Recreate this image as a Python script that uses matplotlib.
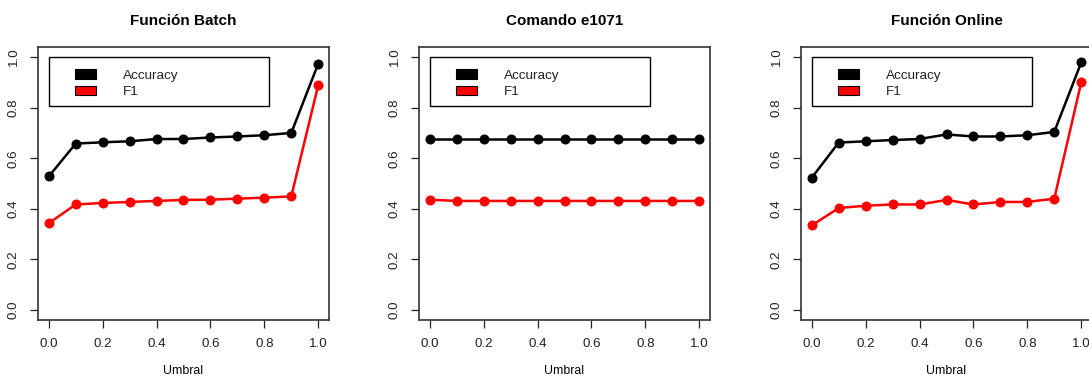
import matplotlib
matplotlib.use("Agg")
import matplotlib.pyplot as plt
from matplotlib.patches import Rectangle

plt.rcParams['font.family'] = ['Liberation Sans', 'DejaVu Sans']

umbral = [0.0, 0.1, 0.2, 0.3, 0.4, 0.5, 0.6, 0.7, 0.8, 0.9, 1.0]

batch_acc = [0.528, 0.658, 0.663, 0.667, 0.676, 0.676, 0.682, 0.686, 0.691, 0.700, 0.974]
batch_f1 = [0.343, 0.417, 0.423, 0.427, 0.431, 0.435, 0.436, 0.440, 0.444, 0.449, 0.889]

e1071_acc = [0.676, 0.676, 0.676, 0.676, 0.676, 0.676, 0.676, 0.676, 0.676, 0.676, 0.676]
e1071_f1 = [0.436, 0.431, 0.431, 0.431, 0.431, 0.431, 0.431, 0.431, 0.431, 0.431, 0.431]

online_acc = [0.523, 0.662, 0.667, 0.672, 0.676, 0.694, 0.686, 0.686, 0.691, 0.704, 0.979]
online_f1 = [0.334, 0.403, 0.412, 0.417, 0.417, 0.435, 0.417, 0.427, 0.427, 0.440, 0.900]

titles = ["Función Batch", "Comando e1071", "Función Online"]
series = [(batch_acc, batch_f1), (e1071_acc, e1071_f1), (online_acc, online_f1)]
ticks = [0.0, 0.2, 0.4, 0.6, 0.8, 1.0]
tick_labels = ["0.0", "0.2", "0.4", "0.6", "0.8", "1.0"]

W, H = 1089, 381
fig = plt.figure(figsize=(W / 100, H / 100), dpi=100)
lefts = [38, 419, 801]

for left, title, (acc, f1) in zip(lefts, titles, series):
    ax = fig.add_axes([left / W, (H - 320) / H, 291 / W, 273 / H])
    ax.plot(umbral, acc, color="black", lw=1.8, marker="o", ms=6.2)
    ax.plot(umbral, f1, color="red", lw=1.8, marker="o", ms=6.2)
    ax.set_xlim(-0.04, 1.04)
    ax.set_ylim(-0.04, 1.04)
    ax.set_xticks(ticks)
    ax.set_xticklabels(tick_labels)
    ax.set_yticks(ticks)
    ax.set_yticklabels(tick_labels, rotation=90, va="center")
    ax.tick_params(direction="out", length=6, width=0.9, labelsize=9.6, pad=7, colors="#222222")
    for sp in ax.spines.values():
        sp.set_linewidth(1.2)
        sp.set_color("#333333")
    ax.set_title(title, fontsize=11, fontweight="bold", pad=16)
    ax.set_xlabel("Umbral", fontsize=8.8, labelpad=11)

    # legend box drawn in data coordinates, anchored at (0, 1)
    ax.add_patch(Rectangle((0.0, 0.806), 0.817, 0.194, fill=False, lw=1.0, ec="black", zorder=3))
    for yc, col, lab in [(0.933, "black", "Accuracy"), (0.869, "red", "F1")]:
        ax.add_patch(Rectangle((0.096, yc - 0.018), 0.081, 0.036, fc=col, ec="black", lw=0.8, zorder=4))
        ax.text(0.274, yc, lab, fontsize=9.7, va="center_baseline", ha="left", color="#222222")

fig.savefig("out.png", dpi=100)
